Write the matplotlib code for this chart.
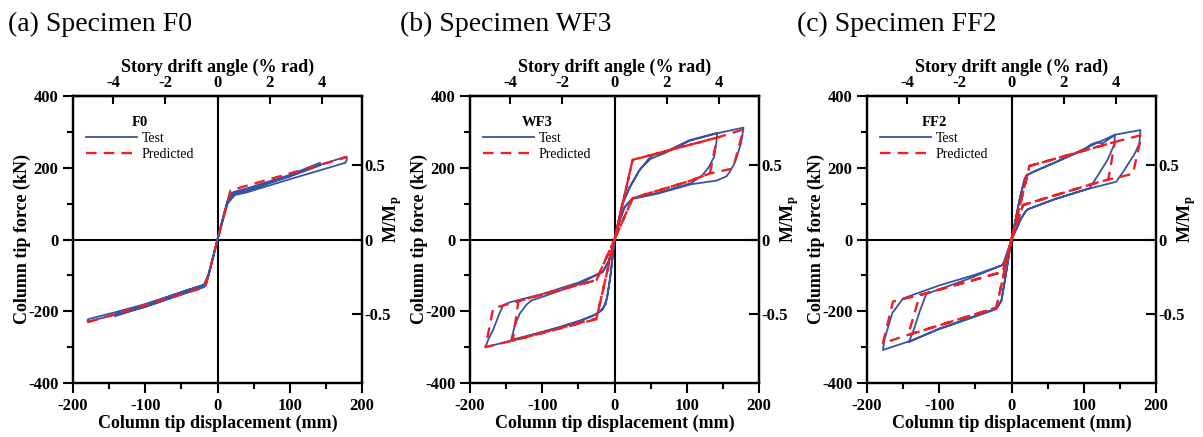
import numpy as np
import matplotlib
matplotlib.use("Agg")
import matplotlib.pyplot as plt
from matplotlib.ticker import MultipleLocator

plt.rcParams['font.family'] = ['Liberation Serif', 'DejaVu Serif']
plt.rcParams['axes.unicode_minus'] = False
plt.rcParams['mathtext.fontset'] = 'custom'
plt.rcParams['mathtext.rm'] = 'Liberation Serif'
plt.rcParams['mathtext.bf'] = 'Liberation Serif:bold'

# ---- data: (displacement mm, force kN) ----
# (a) F0
disp_a_test = [0, 8, 15, 19, 25, 40, 100, 142, 141, 100, 40, 22, 14, 0,
               -8, -15, -18, -40, -100, -142, -141, -100, -40, -18, -12, 0,
               10, 17, 22, 40, 100, 142, 178, 179, 177, 142, 100, 40, 24, 14, 0,
               -9, -16, -19, -40, -100, -142, -180, -179, -142, -100, -40, -19, -12, 0]
force_a_test = [0, 62, 115, 128, 134, 142, 180, 214, 206, 176, 135, 127, 108, 0,
                -65, -120, -131, -145, -187, -214, -208, -182, -140, -127, -98, 0,
                80, 124, 131, 138, 176, 208, 231, 222, 214, 193, 168, 131, 124, 100, 0,
                -70, -122, -133, -147, -188, -210, -229, -222, -203, -180, -140, -126, -96, 0]
disp_a_pred = [-180, -17, 18, 180]
force_a_pred = [-231, -133, 137, 230]

# (b) WF3
disp_b_test = [0, 7, 11.5, 21, 35, 46, 53, 71, 104, 142,
               141, 138, 130, 122, 106, 60, 25, 14, 8, 0,
               -5, -10, -16, -25, -48, -75, -108, -143,
               -138, -131, -122, -115, -100, -50, -16, -8, 0,
               10, 20, 35, 50, 71, 104, 142, 178.5,
               177, 175, 170, 166, 160, 155, 141, 106, 60, 25, 14, 7, 0,
               -6, -12, -20, -30, -48, -75, -108, -143, -178.5,
               -175, -168, -160, -154, -145, -100, -50, -16, -8, 0]
force_b_test = [0, 64, 101, 147, 194, 222, 235, 245, 277, 297,
                270, 231, 200, 180, 157, 130, 115, 91, 60, 0,
                -90, -160, -195, -208, -226, -243, -262, -280,
                -240, -206, -182, -170, -160, -125, -90, -60, 0,
                95, 140, 195, 225, 242, 275, 296, 312,
                290, 268, 235, 212, 190, 176, 164, 154, 128, 113, 90, 50, 0,
                -110, -180, -200, -213, -228, -245, -263, -282, -300,
                -280, -252, -210, -183, -175, -152, -120, -90, -60, 0]
disp_b_pred = [0, 25, 142, 132, 104, 25, 0, -25, -141, -133, -113, -25, 0,
               25, 142, 178.5, 164, 132, 104, 25, 0, -25, -141, -178.5, -168, -133, -25, 0]
force_b_pred = [0, 222, 284, 184, 163, 115, 0, -220, -282, -172, -160, -113, 0,
                222, 284, 307, 198, 184, 163, 115, 0, -222, -282, -300, -192, -172, -113, 0]

# (c) FF2
disp_c_test = [0, 6, 12, 18, 22, 30, 60, 100, 110, 118, 126, 143,
               142.6, 138, 133, 120, 108, 60, 25, 20, 14, 0,
               -8, -14, -21, -60, -100, -142,
               -135, -127, -118, -60, -12, -5, 0,
               12, 20, 27, 60, 100, 143, 178.5,
               177, 172, 168, 155, 145, 108, 60, 22, 14, 0,
               -8, -14, -21, -60, -100, -142, -178,
               -176, -165, -150, -100, -50, -12, 0]
force_c_test = [0, 60, 120, 170, 180, 188, 214, 250, 265, 271, 268, 291,
                268, 245, 222, 180, 143, 112, 86, 80, 60, 0,
                -100, -170, -192, -220, -248, -286,
                -250, -200, -152, -110, -71, -40, 0,
                118, 177, 186, 215, 252, 292, 305,
                268, 245, 231, 190, 161, 142, 113, 84, 62, 0,
                -100, -172, -194, -222, -250, -284, -308,
                -280, -205, -164, -128, -98, -71, 0]
disp_c_pred = [0, 25, 143, 134, 122, 16, 0, -21, -143, -127, -12, 0,
               25, 143, 180, 168, 134, 122, 16, 0, -21, -143, -178, -164, -127, -12, 0]
force_c_pred = [0, 205, 272, 167, 161, 96, 0, -190, -266, -155, -90, 0,
                205, 272, 291, 183, 167, 161, 96, 0, -190, -266, -289, -173, -155, -90, 0]

titles = ['(a) Specimen F0', '(b) Specimen WF3', '(c) Specimen FF2']
names = ['F0', 'WF3', 'FF2']
tests = [(disp_a_test, force_a_test), (disp_b_test, force_b_test), (disp_c_test, force_c_test)]
preds = [(disp_a_pred, force_a_pred), (disp_b_pred, force_b_pred), (disp_c_pred, force_c_pred)]

drift_mm = 36.0   # mm per % rad
Mp = 415.0        # kN at M/Mp = 1

W, H = 1203, 437
fig = plt.figure(figsize=(W / 100, H / 100), dpi=100)

lefts = [73, 470, 867]
title_x = [8, 400, 797]
blue = '#3953a4'
red = '#ed2024'
tick_fs = 12
lab_fs = 13

for i in range(3):
    ax = fig.add_axes([lefts[i] / W, (H - 383) / H, 289 / W, 287 / H])
    ax.axhline(0, color='black', lw=1.5, zorder=1)
    ax.axvline(0, color='black', lw=1.5, zorder=1)
    ax.plot(tests[i][0], tests[i][1], color=blue, lw=1.3, label='Test', zorder=2)
    ax.plot(preds[i][0], preds[i][1], color=red, lw=1.7, ls=(0, (4.5, 3)),
            label='Predicted', zorder=3)
    ax.set_xlim(-200, 200)
    ax.set_ylim(-400, 400)
    ax.xaxis.set_major_locator(MultipleLocator(100))
    ax.xaxis.set_minor_locator(MultipleLocator(50))
    ax.yaxis.set_major_locator(MultipleLocator(200))
    ax.yaxis.set_minor_locator(MultipleLocator(100))
    ax.tick_params(which='both', direction='out', top=False, right=False, width=1.5)
    ax.tick_params(which='major', length=7, labelsize=tick_fs)
    ax.tick_params(which='minor', length=4)
    for sp in ax.spines.values():
        sp.set_linewidth(1.6)
    for lb in ax.get_xticklabels() + ax.get_yticklabels():
        lb.set_fontweight('bold')
    ax.set_xlabel('Column tip displacement (mm)', fontsize=lab_fs, fontweight='bold', labelpad=1)
    ax.set_ylabel('Column tip force (kN)', fontsize=lab_fs, fontweight='bold', labelpad=-2)

    top = ax.secondary_xaxis('top', functions=(lambda d: d / drift_mm, lambda a: a * drift_mm))
    top.set_xticks([-4, -2, 0, 2, 4])
    top.tick_params(direction='in', length=6, width=1.5, labelsize=tick_fs, pad=3.5)
    top.spines['top'].set_linewidth(1.6)
    for lb in top.get_xticklabels():
        lb.set_fontweight('bold')
    top.set_xlabel('Story drift angle (% rad)', fontsize=lab_fs, fontweight='bold', labelpad=2)

    rax = ax.twinx()
    rax.set_ylim(-400 / Mp, 400 / Mp)
    rax.set_yticks([-0.5, 0, 0.5])
    rax.set_yticklabels(['-0.5', '0', '0.5'])
    rax.tick_params(direction='in', length=7, width=1.5, labelsize=tick_fs, pad=2)
    for lb in rax.get_yticklabels():
        lb.set_fontweight('bold')
    for sp in rax.spines.values():
        sp.set_linewidth(1.6)
    rax.set_ylabel(r'$\mathbf{M/M_p}$', fontsize=lab_fs)
    rax.yaxis.set_label_coords(1.067, 0.57)

    leg = ax.legend(title=names[i], loc='upper left', bbox_to_anchor=(0.045, 0.93),
                    frameon=False, fontsize=10, handlelength=3.7, handletextpad=0.3,
                    labelspacing=0.2, borderpad=0, borderaxespad=0,
                    title_fontproperties={'weight': 'bold', 'size': 10.5})

    fig.text(title_x[i] / W, 1 - 31 / H, titles[i], fontsize=20, va='baseline', ha='left')

fig.savefig('out.png', dpi=100)
